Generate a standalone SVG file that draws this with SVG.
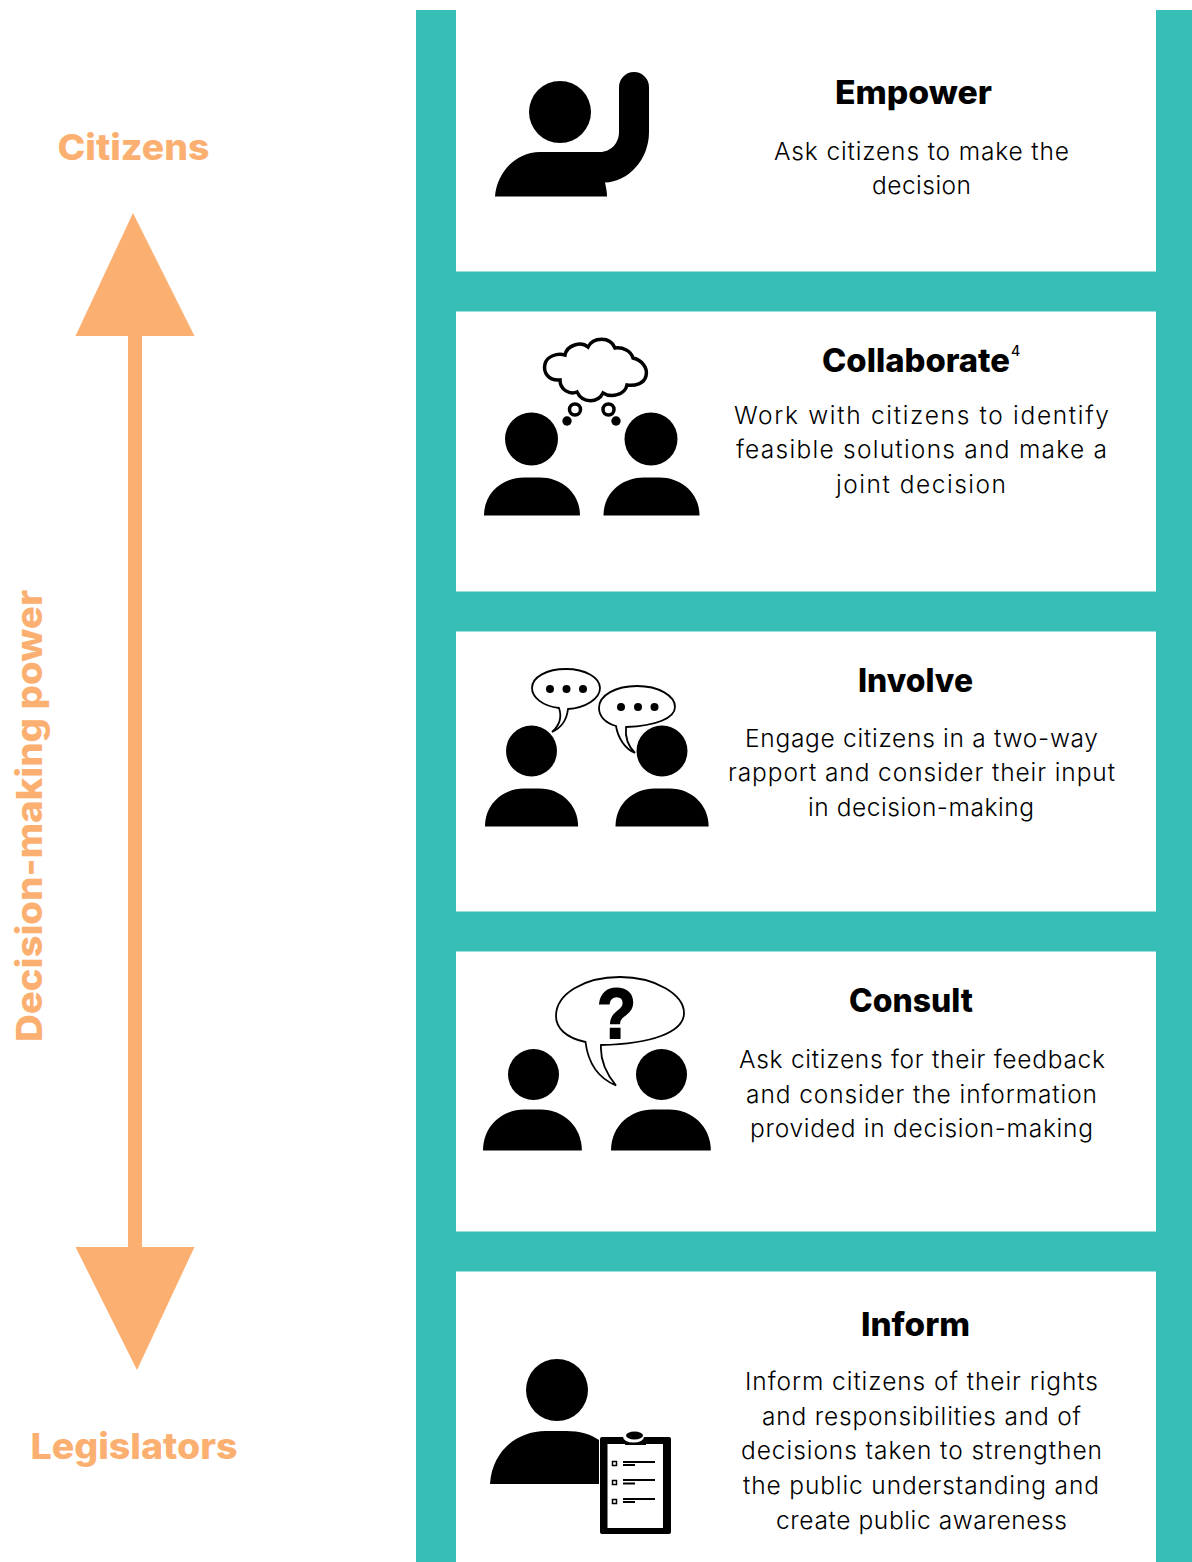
<svg xmlns="http://www.w3.org/2000/svg" width="1192" height="1562" viewBox="0 0 1192 1562">
<style>
.t{font-family:"Inter","Noto Sans","Liberation Sans",sans-serif;font-size:24.500px;font-weight:300;fill:#000}
.h{font-family:"Inter","Noto Sans","Liberation Sans",sans-serif;font-size:32px;font-weight:800;fill:#000}
.o{font-family:"Inter","Noto Sans","Liberation Sans",sans-serif;font-size:36px;font-weight:800;fill:#fbb072}
.bar{fill:#37bfb7}
.arrow{fill:#fbb072}
.k{fill:#000}
.line{fill:#fff;stroke:#000;stroke-width:1.800}
</style>
<defs>
<path id="shoulders" d="M0 38C0 14 20 0 40 0H56C78 0 96 16 96 38Z"/>
</defs>
<rect width="1192" height="1562" fill="#fff"/>
<g id="ladder">
<rect class="bar" x="416" y="10" width="40" height="1552"/>
<rect class="bar" x="1156" y="10" width="36" height="1552"/>
<rect class="bar" x="456" y="271.500" width="700" height="40"/>
<rect class="bar" x="456" y="591.500" width="700" height="40"/>
<rect class="bar" x="456" y="911.500" width="700" height="40"/>
<rect class="bar" x="456" y="1231.500" width="700" height="40"/>
</g>
<g id="connectors">
<rect class="arrow" x="128" y="330" width="14" height="922"/>
<polygon class="arrow" points="133,213 194.500,336 75.500,336"/>
<polygon class="arrow" points="75.500,1247 194.500,1247 137,1370"/>
</g>
<g id="axis-labels">
<text class="o" x="57.500" y="160" textLength="152" lengthAdjust="spacingAndGlyphs">Citizens</text>
<text class="o" x="30.500" y="1459" textLength="207" lengthAdjust="spacingAndGlyphs">Legislators</text>
<text class="o" transform="translate(41.500 1042) rotate(-90)" textLength="452" lengthAdjust="spacingAndGlyphs">Decision-making power</text>
</g>
<g id="empower">
<circle class="k" cx="560" cy="112" r="31"/>
<path class="k" d="M495 196.500C497 172 516 152 540 152H600C611 152 619 143 619 132V87A15 15 0 0 1 649 87V132C649 160 628 182 605 182.500C606 187 607 192 607 196.500Z"/>
<text class="h" x="835" y="104" textLength="157" lengthAdjust="spacingAndGlyphs">Empower</text>
<text class="t" x="774" y="160" textLength="295">Ask citizens to make the</text>
<text class="t" x="872" y="194" textLength="99">decision</text>
</g>
<g id="collaborate">
<circle class="k" cx="531.500" cy="439" r="26.500"/>
<circle class="k" cx="651" cy="439" r="26.500"/>
<use class="k" href="#shoulders" transform="translate(484 477.500)"/>
<use class="k" href="#shoulders" transform="translate(603.500 477.500)"/>
<path fill="#fff" stroke="#000" stroke-width="3.500" d="M560 380C548 381 543 372 545 364C547 356 557 353 565 355C567 345 581 341 588 347C593 337 610 336 615 348C623 347 631 351 633 358C642 360 648 368 646 376C644 384 635 386 627 385C625 395 611 398 603 393C598 403 583 404 577 392C570 395 560 390 560 380Z"/>
<circle cx="575" cy="409.500" r="5.500" fill="#fff" stroke="#000" stroke-width="3.500"/>
<circle cx="608.500" cy="409.500" r="5.500" fill="#fff" stroke="#000" stroke-width="3.500"/>
<circle class="k" cx="567" cy="421" r="4.700"/>
<circle class="k" cx="616" cy="421" r="4.700"/>
<text class="h" x="822" y="372" textLength="188" lengthAdjust="spacingAndGlyphs">Collaborate</text>
<text x="1011" y="356" font-family="Inter,'Noto Sans',sans-serif" font-size="14" font-weight="500" fill="#000">4</text>
<text class="t" x="734" y="424" textLength="375">Work with citizens to identify</text>
<text class="t" x="736" y="458" textLength="371">feasible solutions and make a</text>
<text class="t" x="836" y="493" textLength="170">joint decision</text>
</g>
<g id="involve">
<circle class="k" cx="531.500" cy="751" r="25.500"/>
<circle class="k" cx="662" cy="751" r="25.500"/>
<use class="k" href="#shoulders" transform="translate(485 788.500) scale(.97 1)"/>
<use class="k" href="#shoulders" transform="translate(615.500 788.500) scale(.97 1)"/>
<path class="line" d="M552 732C560 725 562 717 559 708C542 706 532 697 532 688C532 677 547 669 566 669C586 669 600 678 600 688C600 699 585 708 568 709C567 718 563 727 552 732Z"/>
<path class="line" d="M635 753C625 749 618 738 616 726C605 723 599 716 599 708C599 695 616 686 637 686C659 686 675 696 675 707C675 718 656 726 626 727C625 737 628 746 635 753Z"/>
<circle class="k" cx="550" cy="689" r="4"/><circle class="k" cx="566.500" cy="689" r="4"/><circle class="k" cx="583" cy="689" r="4"/>
<circle class="k" cx="621" cy="707" r="4"/><circle class="k" cx="638" cy="707" r="4"/><circle class="k" cx="654.500" cy="707" r="4"/>
<text class="h" x="858" y="692" textLength="115" lengthAdjust="spacingAndGlyphs">Involve</text>
<text class="t" x="745" y="747" textLength="353">Engage citizens in a two-way</text>
<text class="t" x="728" y="781" textLength="387">rapport and consider their input</text>
<text class="t" x="808" y="816" textLength="226">in decision-making</text>
</g>
<g id="consult">
<circle class="k" cx="533.500" cy="1074.500" r="25.500"/>
<circle class="k" cx="661.500" cy="1074.500" r="25.500"/>
<use class="k" href="#shoulders" transform="translate(483 1109.500) scale(1.03 1.08)"/>
<use class="k" href="#shoulders" transform="translate(611 1109.500) scale(1.04 1.08)"/>
<path class="line" d="M616 1085.500C598 1078 588 1062 585.500 1042C566 1038 556 1028 556 1016C556 994 584 977 620 977C656 977 684 995 684 1013C684 1032 652 1044 601 1045C600 1060 605 1072 616 1085.500Z"/>
<text x="597" y="1038" font-family="'Liberation Sans',Arial,sans-serif" font-size="70" font-weight="700" fill="#000" stroke="#000" stroke-width="2" textLength="39" lengthAdjust="spacingAndGlyphs">?</text>
<text class="h" x="849" y="1012" textLength="124" lengthAdjust="spacingAndGlyphs">Consult</text>
<text class="t" x="739" y="1068" textLength="366">Ask citizens for their feedback</text>
<text class="t" x="746" y="1103" textLength="351">and consider the information</text>
<text class="t" x="750" y="1137" textLength="343">provided in decision-making</text>
</g>
<g id="inform">
<circle class="k" cx="557" cy="1390" r="31"/>
<path class="k" d="M490 1484C492 1452 516 1431 546 1431H566C580 1431 590 1434 599 1440V1484Z"/>
<rect class="k" x="600" y="1437" width="71" height="97" rx="2"/>
<rect x="607.500" y="1444" width="55.500" height="84" fill="#fff"/>
<rect class="k" x="625" y="1439" width="21" height="6"/>
<ellipse cx="633.500" cy="1437" rx="10.500" ry="5.500" fill="#fff"/>
<ellipse cx="634.500" cy="1435.500" rx="8.500" ry="4" fill="#000"/>
<g fill="#fff" stroke="#000" stroke-width="1.500">
<rect x="612.500" y="1461.500" width="4" height="4"/>
<rect x="612.500" y="1480.500" width="4" height="4"/>
<rect x="612.500" y="1499.500" width="4" height="4"/>
</g>
<path fill="none" stroke="#000" stroke-width="2" d="M623 1462H655M623 1465H635M623 1480H655M623 1483.500H635M623 1499H655M623 1502H635"/>
<text class="h" x="861" y="1336" textLength="109" lengthAdjust="spacingAndGlyphs">Inform</text>
<text class="t" x="745" y="1390" textLength="353">Inform citizens of their rights</text>
<text class="t" x="762" y="1425" textLength="319">and responsibilities and of</text>
<text class="t" x="741" y="1459" textLength="361">decisions taken to strengthen</text>
<text class="t" x="743" y="1494" textLength="356">the public understanding and</text>
<text class="t" x="776" y="1529" textLength="291">create public awareness</text>
</g>
</svg>
